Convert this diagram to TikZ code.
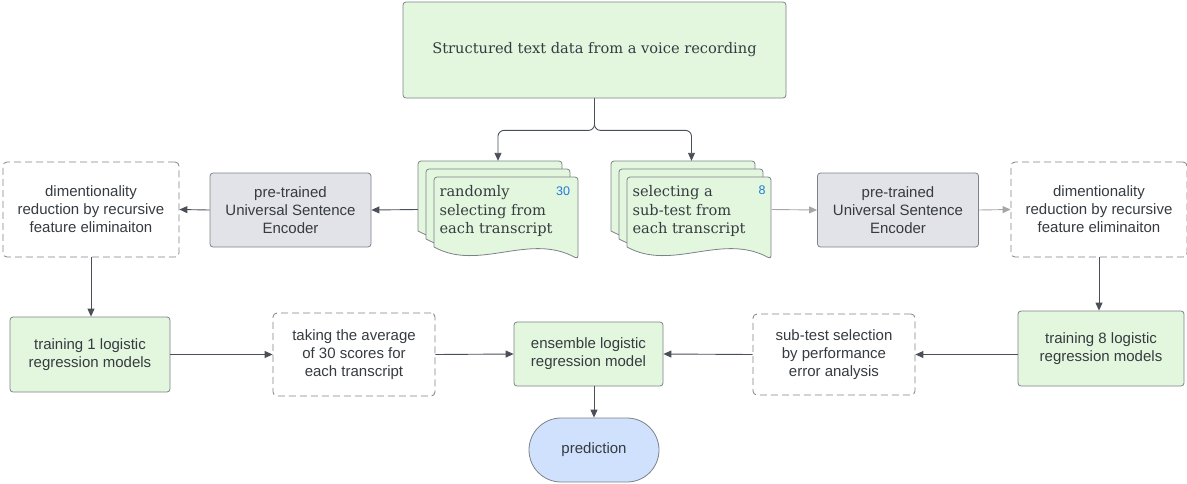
\documentclass[tikz,border=0pt]{standalone}
\usepackage{fontspec}
\setmainfont{Liberation Sans}
\newfontfamily\docfont{DejaVu Serif}
\usetikzlibrary{arrows.meta}

\definecolor{boxgreen}{HTML}{E3F7DF}
\definecolor{boxgray}{HTML}{E1E3E8}
\definecolor{boxblue}{HTML}{CFE1FC}
\definecolor{edgegray}{HTML}{7D8288}
\definecolor{inkgray}{HTML}{363B40}
\definecolor{linegray}{HTML}{4B5058}
\definecolor{numblue}{HTML}{1E7BD8}

\begin{document}
\begin{tikzpicture}[x=1pt,y=-1pt,
    every node/.style={text=inkgray, font=\fontsize{15}{18}\selectfont, align=center},
    stepgreen/.style={draw=edgegray, fill=boxgreen, rounded corners=3pt, line width=0.8pt},
    encoder/.style={draw=edgegray, fill=boxgray, rounded corners=3pt, line width=0.8pt, minimum width=161pt, minimum height=74pt},
    dashbox/.style={draw=edgegray, dash pattern=on 7pt off 4pt, rounded corners=4pt, line width=0.8pt},
    stackbox/.style={draw=none, minimum width=160pt, minimum height=97pt},
    doctext/.style={font=\docfont\fontsize{14.6}{18.5}\selectfont, align=left, anchor=west},
    number/.style={text=numblue, font=\fontsize{12.5}{13}\selectfont},
    arrow/.style={draw=linegray, line width=0.9pt, -{Triangle[length=8pt,width=7pt]}},
    lightarrow/.style={arrow, draw=gray!70},
    docpage/.pic={
      \path[draw=edgegray, fill=boxgreen, line width=0.8pt, rounded corners=3pt]
        (0,70) -- (0,0) -- (144,0) -- (144,82) [sharp corners]
        .. controls (95,55) and (45,95) .. (0,70) -- cycle;
    }]
\useasboundingbox (0,0) rectangle (1187,483);

% Source
\node[stepgreen, minimum width=383pt, minimum height=96pt, font=\docfont\fontsize{14.6}{18}\selectfont] (src) at (594.5,50) {Structured text data from a voice recording};

% Document stacks
\node[stackbox] (rnd) at (498,209.5) {};
\node[stackbox] (sub) at (691.5,209.5) {};
\foreach \dx in {0,8,16} {
  \pic at (418+\dx,161+\dx) {docpage};
  \pic at (611+\dx,161+\dx) {docpage};
}
\node[doctext] (rndtxt) at (436,211) {randomly\\selecting from\\each transcript};
\node[doctext] (subtxt) at (629,211) {selecting a\\sub-test from\\each transcript};
\node[number] (rndnum) at (563,191) {30};
\node[number] (subnum) at (762,190) {8};

% Encoders and reduction
\node[encoder] (encL) at (290.5,210) {pre-trained\\Universal Sentence\\Encoder};
\node[encoder] (encR) at (898,210) {pre-trained\\Universal Sentence\\Encoder};
\node[dashbox, minimum width=176pt, minimum height=95pt] (redL) at (91,209.5) {dimentionality\\reduction by recursive\\feature eliminaiton};
\node[dashbox, minimum width=176pt, minimum height=95pt] (redR) at (1099,209.5) {dimentionality\\reduction by recursive\\feature eliminaiton};

% Bottom row
\node[stepgreen, minimum width=160pt, minimum height=75pt] (trainL) at (90,354.5) {training 1 logistic\\regression models};
\node[dashbox, minimum width=162pt, minimum height=83pt] (avg) at (354,354.5) {taking the average\\of 30 scores for\\each transcript};
\node[stepgreen, minimum width=149pt, minimum height=64pt] (ens) at (588.5,354) {ensemble logistic\\regression model};
\node[dashbox, minimum width=162pt, minimum height=81pt] (sel) at (834,354.5) {sub-test selection\\by performance\\error analysis};
\node[stepgreen, minimum width=166pt, minimum height=75pt] (trainR) at (1101,348.5) {training 8 logistic\\regression models};
\node[draw=edgegray, fill=boxblue, rounded corners=32pt, line width=0.8pt, minimum width=130pt, minimum height=64pt] (pred) at (594,450) {prediction};

% Connectors
\draw[arrow, rounded corners=6pt] (src.south) -- ++(0,32) -| (rnd.north);
\draw[arrow, rounded corners=6pt] (src.south) -- ++(0,32) -| (sub.north);
\draw[arrow] (rnd.west) -- (encL.east);
\draw[arrow] (encL.west) -- (redL.east);
\draw[lightarrow] (sub.east) -- (encR.west);
\draw[lightarrow] (encR.east) -- (redR.west);
\draw[arrow] (redL.south) -- (trainL.north -| redL.south);
\draw[arrow] (redR.south) -- (trainR.north -| redR.south);
\draw[arrow] (trainL.east) -- (avg.west);
\draw[arrow] (avg.east) -- (ens.west);
\draw[arrow] (trainR.west |- sel.east) -- (sel.east);
\draw[arrow] (sel.west) -- (ens.east);
\draw[arrow] (ens.south -| pred.north) -- (pred.north);
\end{tikzpicture}
\end{document}
